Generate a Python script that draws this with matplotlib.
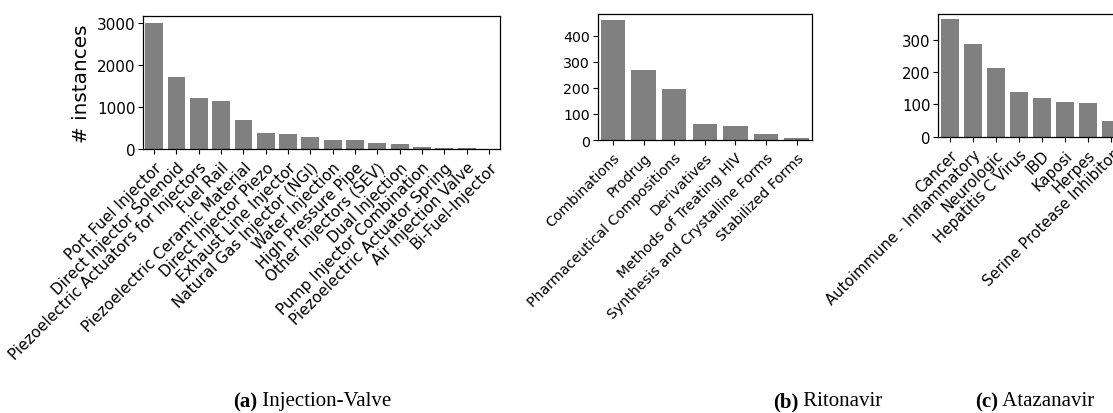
"""
Category distribution bar charts for the three patent datasets.
"""
import matplotlib
matplotlib.use("Agg")
import matplotlib.pyplot as plt


# ── Data ──────────────────────────────────────────────────────────────
VALVE_CATS = [
    "Port Fuel Injector", "Direct Injector Solenoid",
    "Piezoelectric Actuators for Injectors", "Fuel Rail",
    "Piezoelectric Ceramic Material", "Direct Injector Piezo",
    "Exhaust Line Injector", "Natural Gas Injector (NGI)",
    "Water Injection", "High Pressure Pipe", "Other Injectors (SEV)",
    "Dual Injection", "Pump Injector Combination",
    "Piezoelectric Actuator Spring", "Air Injection Valve",
    "Bi-Fuel-Injector",
]
VALVE_COUNTS = [2995, 1712, 1212, 1142, 690, 381, 357, 294,
                216, 214, 143, 119, 48, 25, 24, 4]

RITONAVIR_CATS = [
    "Combinations", "Prodrug", "Pharmaceutical Compositions",
    "Derivatives", "Methods of Treating HIV",
    "Synthesis and Crystalline Forms", "Stabilized Forms",
]
RITONAVIR_COUNTS = [461, 269, 196, 62, 54, 23, 8]

ATAZANAVIR_CATS = [
    "Cancer", "Autoimmune - Inflammatory", "Neurologic",
    "Hepatitis C Virus", "IBD", "Kaposi", "Herpes",
    "Serine Protease Inhibitor",
]
ATAZANAVIR_COUNTS = [364, 287, 212, 138, 120, 107, 104, 48]

CAPTION_TAGS = ["(a)", "(b)", "(c)"]
CAPTION_NAMES = ["Injection-Valve", "Ritonavir", "Atazanavir"]

BAR_COLOR = "#808080"
LABEL_FS = 14.4
CAP_FS = 15


def draw_bars(ax, cats, counts, ymax, yticks, fs=10.7):
    x = range(len(cats))
    ax.bar(x, counts, width=0.8, color=BAR_COLOR)
    ax.set_xlim(-0.5, len(cats) - 0.5)
    ax.set_ylim(0, ymax)
    ax.set_yticks(yticks)
    ax.set_xticks(list(x))
    ax.set_xticklabels(cats, rotation=45, ha="right",
                       rotation_mode="anchor", fontsize=fs)
    ax.tick_params(axis="y", labelsize=fs, pad=2)
    ax.tick_params(axis="x", pad=4)
    for s in ax.spines.values():
        s.set_linewidth(0.9)


fig = plt.figure(figsize=(11.13, 4.14), dpi=100)

ax_a = fig.add_axes([0.1285, 0.6377, 0.3208, 0.3213])
ax_b = fig.add_axes([0.5370, 0.6594, 0.1925, 0.3043])
# third panel runs past the right edge of the canvas
ax_c = fig.add_axes([0.8430, 0.6674, 0.1653, 0.2971])

draw_bars(ax_a, VALVE_CATS, VALVE_COUNTS, 3167, [0, 1000, 2000, 3000], fs=11)
draw_bars(ax_b, RITONAVIR_CATS, RITONAVIR_COUNTS, 483,
          [0, 100, 200, 300, 400], fs=10.2)
draw_bars(ax_c, ATAZANAVIR_CATS, ATAZANAVIR_COUNTS, 380, [0, 100, 200, 300])

ax_a.set_ylabel("# instances", fontsize=LABEL_FS, labelpad=4)

# ── Sub-figure captions (bold tag + regular name) ─────────────────────
cap_left = [233 / 1113, 773 / 1113, 975 / 1113]
for tag, name, x0 in zip(CAPTION_TAGS, CAPTION_NAMES, cap_left):
    t = fig.text(x0, 1 - 402 / 414, tag, family="Liberation Serif",
                 fontweight="bold", fontsize=CAP_FS, ha="left", va="center")
    fig.add_artist(plt.Annotation(" " + name, xy=(1, 0.5), xycoords=t,
                                  va="center", ha="left",
                                  family="Liberation Serif", fontsize=CAP_FS))

fig.savefig("out.png", dpi=100)
